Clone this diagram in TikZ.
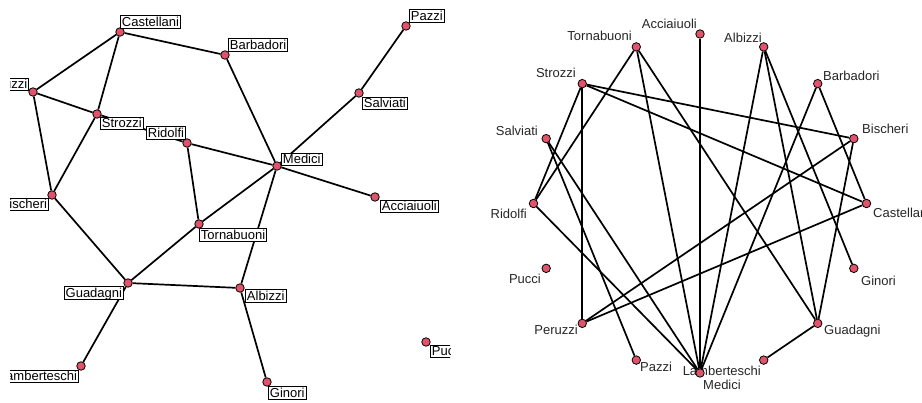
\documentclass[tikz,border=0pt]{standalone}
\usepackage{fontspec}
\setmainfont{Liberation Sans}
\usetikzlibrary{positioning}
\definecolor{vcol}{HTML}{DF536B}
\tikzset{font=\fontsize{13}{15}\selectfont}
\tikzset{vert/.style={circle,draw=black,fill=vcol,line width=0.8pt,minimum size=8.5pt,inner sep=0pt}}
\tikzset{boxlab/.style={draw=black,fill=white,line width=0.9pt,inner xsep=1.5pt,inner ysep=1pt,text height=9.3pt,text depth=1.2pt}}
\tikzset{circlab/.style={text=black!85,inner sep=0pt,text height=9.3pt,text depth=0pt}}
\tikzset{tie/.style={line width=1.7pt}}

\begin{document}
\begin{tikzpicture}[x=1pt,y=-1pt]
  \useasboundingbox (0,0) rectangle (922,403);

  % spring layout
  \begin{scope}
    \clip (10,0) rectangle (450,403);
    \foreach \n/\x/\y in {Castellani/120/32, Barbadori/225/55, Pazzi/406/26,
        Peruzzi/33/92, Strozzi/97/114, Ridolfi/187/143, Salviati/359/93,
        Medici/277/166, Acciaiuoli/375/197, Bischeri/52/195,
        Tornabuoni/199/224, Guadagni/128/283, Albizzi/240/288,
        Lamberteschi/81/366, Ginori/267/382, Pucci/426/342}
      \node[vert] (L\n) at (\x,\y) {};
    \foreach \a/\b in {Acciaiuoli/Medici, Albizzi/Ginori, Albizzi/Guadagni,
        Albizzi/Medici, Barbadori/Castellani, Barbadori/Medici,
        Bischeri/Guadagni, Bischeri/Peruzzi, Bischeri/Strozzi,
        Castellani/Peruzzi, Castellani/Strozzi, Guadagni/Lamberteschi,
        Guadagni/Tornabuoni, Medici/Ridolfi, Medici/Salviati,
        Medici/Tornabuoni, Pazzi/Salviati, Peruzzi/Strozzi,
        Ridolfi/Strozzi, Ridolfi/Tornabuoni}
      \draw[tie] (L\a) -- (L\b);
    % labels
    \foreach \n/\x/\y in {Castellani/120/22, Barbadori/228/45, Pazzi/409/16,
        Strozzi/100/123.5, Salviati/362/103.5, Medici/281/159.5,
        Acciaiuoli/380/206.5, Tornabuoni/199/235, Albizzi/245/296,
        Ginori/268/393, Pucci/430/351.5}
      \node[boxlab,anchor=west] (LL\n) at (\x,\y) {\n};
    \foreach \n/\x/\y in {Peruzzi/29.3/84.5, Ridolfi/186/133,
        Bischeri/49/204.5, Guadagni/124/293, Lamberteschi/79/376.5}
      \node[boxlab,anchor=east] (LL\n) at (\x,\y) {\n};
  \end{scope}

  % circle layout
  \begin{scope}
    \clip (461,0) rectangle (922,403);
    \foreach \n/\x/\y in {Acciaiuoli/697/24, Tornabuoni/632/36,
        Albizzi/762/38, Strozzi/576/73, Salviati/538/131, Ridolfi/527/214,
        Pucci/541/279, Peruzzi/578/330, Lamberteschi/761/371}
      \node[circlab,anchor=east] (RL\n) at (\x,\y) {\n};
    \foreach \n/\x/\y in {Barbadori/823/76, Bischeri/862/129,
        Castellani/873/213, Ginori/861/281, Guadagni/824/330,
        Pazzi/640/367, Medici/703/385}
      \node[circlab,anchor=west] (RL\n) at (\x,\y) {\n};
    \foreach \n/\ang in {Castellani/0, Bischeri/22.5, Barbadori/45,
        Albizzi/67.5, Acciaiuoli/90, Tornabuoni/112.5, Strozzi/135,
        Salviati/157.5, Ridolfi/180, Pucci/202.5, Peruzzi/225,
        Pazzi/247.5, Medici/270, Lamberteschi/292.5, Guadagni/315,
        Ginori/337.5}
      \node[vert] (R\n) at ({700+166.5*cos(\ang)},{203.5-169.5*sin(\ang)}) {};
    \foreach \a/\b in {Acciaiuoli/Medici, Albizzi/Ginori, Albizzi/Guadagni,
        Albizzi/Medici, Barbadori/Castellani, Barbadori/Medici,
        Bischeri/Guadagni, Bischeri/Peruzzi, Bischeri/Strozzi,
        Castellani/Peruzzi, Castellani/Strozzi, Guadagni/Lamberteschi,
        Guadagni/Tornabuoni, Medici/Ridolfi, Medici/Salviati,
        Medici/Tornabuoni, Pazzi/Salviati, Peruzzi/Strozzi,
        Ridolfi/Strozzi, Ridolfi/Tornabuoni}
      \draw[tie] (R\a) -- (R\b);
  \end{scope}
\end{tikzpicture}
\end{document}
